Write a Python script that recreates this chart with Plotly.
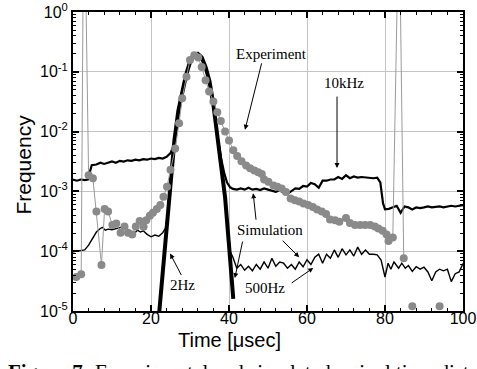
import plotly.graph_objects as go

# ---------------- data ----------------
exp_t = [0.85, 2.1, 2.8, 4.0, 5.1, 6.0, 7.3, 8.1, 9.0, 10.1, 11.1, 12.2, 13.2, 14.1, 15.2, 16.1, 17.1,
         18.1, 18.8, 19.7, 20.5, 21.5, 22.4, 23.2, 24.1, 25.0, 26.2, 27.2, 28.0, 29.1, 30.0, 31.1,
         32.1, 33.0, 34.0, 34.9, 36.0, 37.0, 37.9, 39.0, 40.0, 41.1, 42.1, 43.2, 44.4, 45.4, 46.5,
         47.5, 48.4, 49.0, 50.1, 51.4, 52.4, 53.5, 54.6, 55.8, 56.9, 58.0, 59.1, 60.3, 61.5, 62.6,
         63.8, 64.9, 65.9, 67.2, 68.3, 70.0, 71.0, 72.3, 73.6, 74.9, 76.2, 77.4, 78.3, 79.4, 80.4,
         80.9, 82.0, 83.6, 84.8, None, 87.0, None, 94.0]
exp_f = [3.7e-5, 4.1e-5, 300, 1.86e-3, 1.66e-3, 4.6e-4, 5.9e-5, 5.1e-4, 4.6e-4, 2.75e-4, 2.9e-4,
         2.04e-4, 2.6e-4, 2.04e-4, 1.9e-4, 2.6e-4, 3.2e-4, 2.57e-4, 3.3e-4, 3.9e-4, 4.4e-4, 5.1e-4,
         5.9e-4, 8.1e-4, 1.2e-3, 2.3e-3, 5.2e-3, 1.38e-2, 3.6e-2, 8.3e-2, 0.158, 0.19, 0.174, 0.12,
         0.072, 0.047, 0.032, 0.021, 0.015, 0.010, 7.1e-3, 4.9e-3, 3.9e-3, 3.2e-3, 2.7e-3, 2.45e-3,
         2.24e-3, 2.09e-3, 1.95e-3, 1.58e-3, 1.45e-3, 1.26e-3, 1.2e-3, 1.12e-3, 9.8e-4, 7.6e-4,
         7.1e-4, 6.8e-4, 6.3e-4, 5.9e-4, 5.5e-4, 5.0e-4, 4.6e-4, 4.2e-4, 3.4e-4, 3.3e-4, 3.1e-4,
         3.6e-4, 2.95e-4, 2.75e-4, 2.75e-4, 2.75e-4, 2.75e-4, 2.6e-4, 2.4e-4, 2.2e-4, 1.9e-4,
         1.48e-4, 1.7e-4, 80, 7.6e-5, None, 1.2e-5, None, 1.2e-5]

sim2hz_t = [22.0, 23.0, 24.0, 25.0, 26.0, 27.0, 28.0, 29.0, 30.0, 31.0, 32.0, 33.0, 34.0, 35.0,
            36.0, 37.0, 38.0, 39.0, 40.0, 41.1]
sim2hz_f = [7.9e-6, 4.5e-5, 2.5e-4, 1.4e-3, 7.1e-3, 2.2e-2, 4.8e-2, 8.9e-2, 0.145, 0.19, 0.20,
            0.174, 0.12, 0.069, 0.028, 8.9e-3, 3.2e-3, 7.9e-4, 1.26e-4, 1.6e-5]

sim10k_t = [0, 1, 2, 3, 3.8, 4.3, 4.8, 6, 7, 8, 9, 10, 11, 12, 13, 14, 15, 16, 17, 18, 19, 20, 21,
            22, 23, 24, 25, 25.9, 27, 28, 29, 30, 31, 32, 33, 34, 35, 36, 37, 38, 38.8, 39.5, 40.3,
            41, 42, 43, 44, 45, 46, 47, 48, 49, 50, 51, 52, 53, 54, 55, 56, 57, 58, 59, 60, 61, 62,
            63, 64, 65, 66, 67, 68, 69, 70, 71, 72, 73, 74, 75, 76, 77, 78, 78.8, 79.5, 80, 81, 82,
            83, 84, 85, 86, 87, 88, 89, 90, 91, 92, 93, 94, 95, 96, 97, 98, 99, 100]
sim10k_f = [1.58e-3, 1.51e-3, 1.58e-3, 1.55e-3, 1.58e-3, 2.09e-3, 2.75e-3, 2.82e-3, 3.02e-3,
            2.88e-3, 3.02e-3, 3.16e-3, 3.02e-3, 3.24e-3, 3.16e-3, 3.31e-3, 3.24e-3, 3.39e-3,
            3.31e-3, 3.47e-3, 3.39e-3, 3.55e-3, 3.47e-3, 3.63e-3, 3.55e-3, 3.80e-3, 4.37e-3, 6.0e-3,
            2.2e-2, 4.8e-2, 8.9e-2, 0.145, 0.19, 0.20, 0.174, 0.12, 0.069, 0.028, 8.9e-3, 3.5e-3,
            2.0e-3, 1.41e-3, 1.17e-3, 1.10e-3, 1.07e-3, 1.12e-3, 1.07e-3, 1.15e-3, 1.07e-3, 1.10e-3,
            1.05e-3, 1.12e-3, 1.07e-3, 1.02e-3, 9.8e-4, 1.05e-3, 9.5e-4, 9.1e-4, 1.02e-3, 1.12e-3,
            1.10e-3, 1.23e-3, 1.20e-3, 1.38e-3, 1.32e-3, 1.15e-3, 1.51e-3, 1.51e-3, 1.58e-3,
            1.58e-3, 1.74e-3, 1.62e-3, 1.86e-3, 1.66e-3, 1.78e-3, 1.70e-3, 1.74e-3, 1.70e-3,
            1.66e-3, 1.66e-3, 1.70e-3, 1.41e-3, 6.3e-4, 5.0e-4, 5.1e-4, 5.4e-4, 5.75e-4, 4.4e-4,
            5.6e-4, 5.4e-4, 5.0e-4, 5.4e-4, 5.25e-4, 5.4e-4, 5.6e-4, 5.4e-4, 5.5e-4, 5.6e-4, 5.4e-4,
            5.6e-4, 5.75e-4, 5.6e-4, 5.75e-4, 5.9e-4]

sim500_t = [0, 1, 2, 3, 4, 5, 6, 7, 7.5, 8.3, 9, 10, 11, 12, 13, 14, 15, 15.8, 16.5, 17.3, 18, 19,
            20, 21, 22, 23, 23.7, 24.3, 25, 26, 27, 28, 29, 30, 31, 32, 33, 34, 35, 36, 37, 38, 39,
            40, 41, 42, 43, 44, 45, 46, 47, 48, 49, 50, 51, 52, 53, 54, 55, 56, 57, 58, 59, 60, 61,
            62, 63, 64, 65, 66, 67, 68, 69, 70, 71, 72, 73, 74, 75, 76, 77, 78, 79, 80, 80.8, 81.5,
            82.3, 83.5, 84.3, 85.2, 86, 87, 88, 89, 90, 91, 92, 93, 94, 95, 96, 97, 98, 99, 100]
sim500_f = [9.8e-5, 1.0e-4, 1.0e-4, 1.05e-4, 1.26e-4, 1.66e-4, 2.09e-4, 2.40e-4, 2.51e-4, 2.24e-4,
            2.34e-4, 2.29e-4, 2.40e-4, 2.45e-4, 2.57e-4, 2.29e-4, 2.09e-4, 2.0e-4, 2.24e-4, 2.09e-4,
            2.19e-4, 1.91e-4, 1.74e-4, 1.86e-4, 1.78e-4, 2.04e-4, 2.40e-4, 4.2e-4, 1.4e-3, 7.1e-3,
            2.2e-2, 4.8e-2, 8.9e-2, 0.145, 0.19, 0.20, 0.174, 0.12, 0.069, 0.028, 8.9e-3, 3.2e-3,
            7.9e-4, 1.1e-4, 7.9e-5, 5.2e-5, 6.0e-5, 4.8e-5, 5.6e-5, 4.7e-5, 6.0e-5, 5.0e-5, 6.6e-5,
            5.2e-5, 7.6e-5, 5.6e-5, 6.6e-5, 6.3e-5, 5.2e-5, 6.0e-5, 5.0e-5, 6.6e-5, 5.5e-5, 7.2e-5,
            6.0e-5, 7.9e-5, 8.9e-5, 6.3e-5, 8.9e-5, 7.6e-5, 1.05e-4, 7.9e-5, 1.10e-4, 8.7e-5,
            1.05e-4, 8.3e-5, 1.17e-4, 8.9e-5, 1.05e-4, 8.9e-5, 8.9e-5, 8.7e-5, 7.1e-5, 3.7e-5,
            6.3e-5, 5.0e-5, 6.6e-5, 5.2e-5, 6.3e-5, 5.2e-5, 5.75e-5, 4.6e-5, 5.5e-5, 5.0e-5, 5.4e-5,
            4.5e-5, 3.2e-5, 4.5e-5, 5.0e-5, 4.7e-5, 5.0e-5, 3.1e-5, 4.2e-5, 4.5e-5, 6.2e-5]

y_tickvals = [1e-5, 1e-4, 1e-3, 1e-2, 1e-1, 1]
y_ticktext = ["10<sup>-5</sup>", "10<sup>-4</sup>", "10<sup>-3</sup>", "10<sup>-2</sup>",
              "10<sup>-1</sup>", "10<sup>0</sup>"]
y_minor = [m * 10.0 ** e for e in range(-5, 0) for m in range(2, 10)]
x_tickvals = [0, 20, 40, 60, 80, 100]

# ---------------- figure ----------------
fig = go.Figure()
fig.add_trace(go.Scatter(x=sim500_t, y=sim500_f, mode="lines",
                         line=dict(color="black", width=1.4), connectgaps=False))
fig.add_trace(go.Scatter(x=sim10k_t, y=sim10k_f, mode="lines",
                         line=dict(color="black", width=2.2)))
fig.add_trace(go.Scatter(x=sim2hz_t, y=sim2hz_f, mode="lines",
                         line=dict(color="black", width=4)))
fig.add_trace(go.Scatter(x=exp_t, y=exp_f, mode="lines+markers", connectgaps=False,
                         line=dict(color="#9a9a9a", width=1),
                         marker=dict(color="#8a8a8a", size=8)))

serif = "Liberation Serif, Times New Roman, serif"
sans = "Liberation Sans, Arial, sans-serif"
tf = dict(family=serif, size=15, color="black")

texts = [("Experiment", 50.8, -0.70), ("10kHz", 69.5, -1.19), ("Simulation", 50.5, -3.65),
         ("2Hz", 28.1, -4.57), ("500Hz", 49.2, -4.62)]
annots = []
for t, x, y in texts:
    annots.append(dict(text=t, x=x, y=y, xref="x", yref="y", showarrow=False, font=tf))

arrows = [(44.1, -1.97, 17, -68), (67.7, -2.61, 0, -73), (46.2, -3.03, 3, 28),
          (58.0, -4.10, -18, -18), (41.5, -4.45, 8, -38), (24.9, -4.04, 12, 23),
          (61.6, -4.28, -23, 16)]
for x, y, ax, ay in arrows:
    annots.append(dict(text="", x=x, y=y, xref="x", yref="y", ax=ax, ay=ay, showarrow=True,
                       arrowhead=2, arrowsize=1, arrowwidth=1, arrowcolor="black", standoff=0))

annots.append(dict(text="Frequency", xref="paper", yref="paper", x=-0.128, y=0.49,
                   textangle=-90, showarrow=False, xanchor="center", yanchor="middle",
                   font=dict(family=sans, size=21, color="black")))
annots.append(dict(text="Time [μsec]", xref="paper", yref="paper", x=0.40, y=-0.097,
                   showarrow=False, xanchor="center", yanchor="middle",
                   font=dict(family=sans, size=20, color="black")))
annots.append(dict(text="<b>Figure 7:</b> Experimental and simulated arrival time distributions",
                   xref="paper", yref="paper", x=-0.172, y=-0.158, showarrow=False,
                   xanchor="left", yanchor="top",
                   font=dict(family=serif, size=21, color="black")))

fig.update_layout(
    width=477, height=369,
    margin=dict(l=73, r=14, t=12, b=58, autoexpand=False),
    paper_bgcolor="white", plot_bgcolor="white",
    showlegend=False,
    annotations=annots,
    xaxis=dict(range=[0, 100], tickmode="array", tickvals=x_tickvals, automargin=False,
               ticks="inside", ticklen=6, tickwidth=1.5, tickcolor="black",
               ticklabelstandoff=-8,
               showline=True, linewidth=2, linecolor="black", mirror="ticks",
               showgrid=True, gridcolor="#c4c4c4", gridwidth=1, zeroline=False,
               tickfont=dict(family=sans, size=16, color="black"),
               minor=dict(dtick=4, tick0=0, ticks="inside", ticklen=3, tickwidth=1,
                          tickcolor="black", showgrid=False)),
    yaxis=dict(type="log", range=[-5, 0], tickmode="array", tickvals=y_tickvals,
               ticktext=y_ticktext, automargin=False,
               ticks="inside", ticklen=6, tickwidth=1.5, tickcolor="black",
               showline=True, linewidth=2, linecolor="black", mirror="ticks",
               showgrid=True, gridcolor="#c4c4c4", gridwidth=1, zeroline=False,
               tickfont=dict(family=sans, size=16, color="black"),
               minor=dict(tickmode="array", tickvals=y_minor, ticks="inside", ticklen=3,
                          tickwidth=1, tickcolor="black", showgrid=False)),
)

fig.write_html("out.html")
